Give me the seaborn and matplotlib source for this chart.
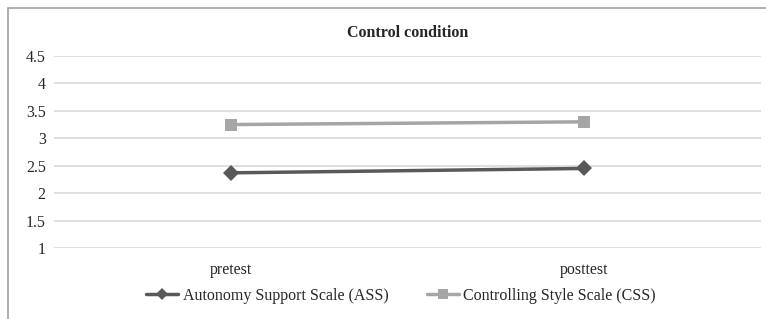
import matplotlib
matplotlib.use("Agg")
import matplotlib.pyplot as plt
import seaborn as sns
import pandas as pd
from matplotlib.patches import Rectangle

phases = ["pretest", "posttest"]
ass = [2.37, 2.45]
css = [3.25, 3.30]
series_names = ["Autonomy Support Scale (ASS)", "Controlling Style Scale (CSS)"]
yticks = [1, 1.5, 2, 2.5, 3, 3.5, 4, 4.5]
ytick_labels = ["1", "1.5", "2", "2.5", "3", "3.5", "4", "4.5"]

df = pd.DataFrame({
    "phase": phases * 2,
    "value": ass + css,
    "series": [series_names[0]] * 2 + [series_names[1]] * 2,
})

sns.set_theme(style="white")
plt.rcParams["font.family"] = ["Liberation Serif", "DejaVu Serif"]

fig = plt.figure(figsize=(7.66, 3.19), dpi=100)
ax = fig.add_axes([54/766, 1-248/319, (761-54)/766, (248-56)/319])

palette = {series_names[0]: "#595959", series_names[1]: "#A6A6A6"}
markers = {series_names[0]: "D", series_names[1]: "s"}
sns.lineplot(data=df, x="phase", y="value", hue="series", style="series",
             palette=palette, markers=markers, dashes=False, linewidth=2.5,
             markersize=8, markeredgewidth=0, ax=ax, legend=True)

ax.set_xlim(-0.5, 1.5)
ax.set_ylim(1, 4.5)
ax.set_yticks(yticks)
ax.set_yticklabels(ytick_labels, fontsize=11.5)
ax.set_xticks([0, 1])
ax.set_xticklabels(phases, fontsize=11.5)
ax.tick_params(axis="x", length=0, pad=10)
ax.tick_params(axis="y", length=0, pad=6)
ax.set_xlabel("")
ax.set_ylabel("")
ax.yaxis.grid(True, color="#D9D9D9", linewidth=1.2)
ax.set_axisbelow(True)
for s in ax.spines.values():
    s.set_visible(False)

ax.set_title("Control condition", fontsize=11.5, fontweight="bold", pad=14)

handles, labels = ax.get_legend_handles_labels()
for h in handles:
    h.set_markersize(6.5)
ax.legend(handles, labels, loc="center", bbox_to_anchor=(401/766, (1-296/319)), bbox_transform=fig.transFigure,
          ncol=2, frameon=False, fontsize=11.5, handlelength=2.0, columnspacing=2.4, handletextpad=0.3)

fig.patches.append(Rectangle((8/766, -0.1), 1.2, 1 - 8/319 + 0.1, transform=fig.transFigure,
                             fill=False, edgecolor="#A0A0A0", linewidth=1.2))

fig.savefig("out.png", dpi=100)
